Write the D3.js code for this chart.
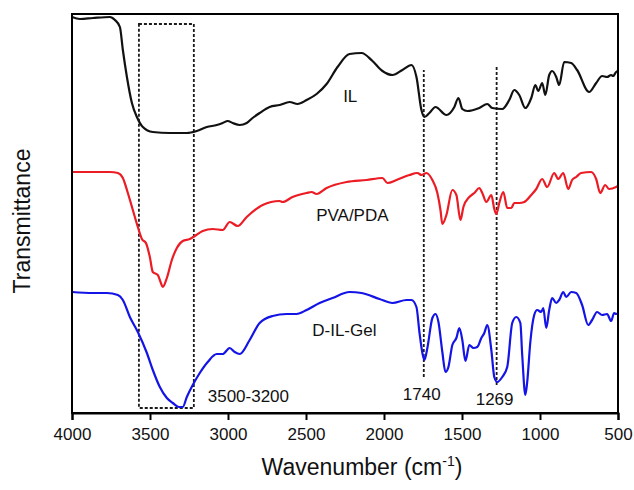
<!DOCTYPE html>
<html>
<head>
<meta charset="utf-8">
<script src="https://cdn.jsdelivr.net/npm/d3@7"></script>
<style>
  body { margin: 0; background: #fff; }
  text { font-family: "Liberation Sans", Arial, sans-serif; fill: #111; }
</style>
</head>
<body>
<div id="chart"></div>
<script>

// ---- data: [wavenumber (cm-1), transmittance (a.u.)] ----
var ilData = [
  [4000,396],[3949,394],[3866,395],[3757,396],[3725,393],[3693,386],[3674,363],[3648,336],
  [3616,310],[3584,296],[3546,286],[3482,281],[3373,280],[3264,280],[3200,282],[3136,286],
  [3072,288],[3034,290],[3002,292],[2970,290],[2925,288],[2880,290],[2842,295],[2797,300],
  [2733,306],[2669,308],[2605,311],[2554,309],[2496,313],[2432,319],[2368,329],[2298,346],
  [2221,359],[2144,360],[2074,352],[2010,342],[1946,338],[1882,343],[1824,348],[1792,336],
  [1760,303],[1741,296],[1709,300],[1670,306],[1600,298],[1549,306],[1523,315],[1498,304],
  [1466,302],[1389,305],[1338,309],[1306,305],[1242,304],[1197,313],[1165,323],[1133,318],
  [1094,305],[1056,315],[1030,328],[1011,322],[986,330],[966,318],[941,338],[922,342],
  [896,336],[877,328],[845,351],[800,350],[762,343],[685,321],[640,330],[602,337],
  [570,336],[544,338],[531,337],[512,341],[500,342]
];

var pvaData = [
  [4000,241],[3866,241],[3757,241],[3706,240],[3674,235],[3642,220],[3610,203],[3578,186],
  [3552,174],[3526,170],[3501,156],[3482,141],[3450,138],[3430,130],[3418,126],[3392,135],
  [3360,153],[3328,165],[3290,172],[3245,174],[3213,177],[3162,182],[3098,184],[3034,183],
  [2989,191],[2938,187],[2880,196],[2778,208],[2669,212],[2650,211],[2586,216],[2496,220],
  [2464,221],[2432,219],[2368,225],[2240,231],[2112,233],[2010,235],[1978,230],[1920,233],
  [1837,238],[1786,240],[1760,238],[1728,240],[1690,233],[1658,220],[1638,203],[1626,189],
  [1600,198],[1562,223],[1536,218],[1510,193],[1491,206],[1453,216],[1421,220],[1389,225],
  [1370,220],[1344,211],[1312,218],[1293,204],[1280,199],[1261,210],[1235,221],[1210,205],
  [1184,205],[1165,210],[1133,210],[1101,211],[1056,218],[1024,224],[986,234],[954,226],
  [909,240],[883,234],[851,240],[819,224],[794,233],[768,236],[736,240],[672,241],
  [640,234],[614,220],[582,228],[557,224],[512,226],[500,227]
];

var gelData = [
  [4000,121],[3866,120],[3776,120],[3706,118],[3674,113],[3629,96],[3578,81],[3520,60],
  [3482,43],[3437,26],[3392,15],[3354,10],[3315,6],[3290,6],[3264,16],[3226,28],
  [3181,40],[3130,51],[3072,59],[3034,59],[2989,65],[2957,61],[2925,59],[2861,73],
  [2797,90],[2714,97],[2624,99],[2560,99],[2496,103],[2413,110],[2330,115],[2221,121],
  [2144,120],[2029,114],[1946,110],[1856,113],[1824,113],[1792,106],[1773,81],[1754,60],
  [1741,53],[1722,65],[1690,95],[1670,99],[1651,91],[1626,61],[1606,41],[1587,46],
  [1562,68],[1536,75],[1517,85],[1498,73],[1478,52],[1453,68],[1427,65],[1402,66],
  [1376,75],[1357,80],[1338,88],[1312,63],[1293,36],[1274,31],[1242,36],[1210,46],
  [1178,90],[1152,96],[1126,90],[1114,58],[1094,18],[1082,31],[1062,71],[1037,98],
  [1018,103],[992,101],[979,105],[960,85],[941,103],[922,115],[896,110],[877,113],
  [851,121],[832,116],[800,121],[768,120],[730,108],[691,88],[666,93],[634,101],
  [602,98],[570,99],[544,92],[525,100],[512,99],[500,100]
];

var seriesNames = ['IL', 'PVA/PDA', 'D-IL-Gel'];
var seriesColors = ['#111111', '#ec1c24', '#1414e6'];
var seriesData = [ilData, pvaData, gelData];

// label anchor points [wavenumber, transmittance]
var seriesLabelPos = [[2262, 311], [2435, 192], [2460, 77]];

var xTicks = [4000, 3500, 3000, 2500, 2000, 1500, 1000, 500];

// dashed box for O-H band, and peak guide lines
var bandBox = { x0: 3571, x1: 3219, y0: 5, y1: 389, label: '3500-3200' };
var peakLines = [
  { wn: 1745, y0: 36, y1: 343, label: '1740', ly: 13 },
  { wn: 1278, y0: 28, y1: 348, label: '1269', ly: 8 }
];


// ---- svg ----
var W = 634, H = 490;
var margin = { top: 14, right: 16, bottom: 77, left: 72 };

var svg = d3.select('#chart').append('svg')
  .attr('width', W).attr('height', H);

var x = d3.scaleLinear().domain([4000, 500]).range([margin.left, W - margin.right]);
var y = d3.scaleLinear().domain([0, 399]).range([H - margin.bottom, margin.top]);

var line = d3.line()
  .x(function(d) { return x(d[0]); })
  .y(function(d) { return y(d[1]); })
  .curve(d3.curveMonotoneX);

// dashed annotations (behind curves)
var dash = svg.append('g')
  .attr('fill', 'none').attr('stroke', '#1a1a1a')
  .attr('stroke-width', 1.8).attr('stroke-dasharray', '3,2');

dash.append('rect')
  .attr('x', x(bandBox.x0)).attr('y', y(bandBox.y1))
  .attr('width', x(bandBox.x1) - x(bandBox.x0))
  .attr('height', y(bandBox.y0) - y(bandBox.y1));

dash.selectAll('line.peak')
  .data(peakLines).enter()
  .append('line').attr('class', 'peak')
  .attr('x1', function(d) { return x(d.wn); })
  .attr('x2', function(d) { return x(d.wn); })
  .attr('y1', function(d) { return y(d.y0); })
  .attr('y2', function(d) { return y(d.y1); });

// spectra
svg.selectAll('path.spec')
  .data(seriesData).enter()
  .append('path').attr('class', 'spec')
  .attr('fill', 'none')
  .attr('stroke', function(d, i) { return seriesColors[i]; })
  .attr('stroke-width', 2.2)
  .attr('stroke-linejoin', 'round')
  .attr('d', line);

// series labels
svg.selectAll('text.slab')
  .data(seriesLabelPos).enter()
  .append('text').attr('class', 'slab')
  .attr('x', function(d) { return x(d[0]); })
  .attr('y', function(d) { return y(d[1]); })
  .attr('font-size', 17)
  .text(function(d, i) { return seriesNames[i]; });

// band / peak labels
svg.append('text')
  .attr('x', x(3130)).attr('y', y(11))
  .attr('font-size', 17)
  .text(bandBox.label);

svg.selectAll('text.plab')
  .data(peakLines).enter()
  .append('text').attr('class', 'plab')
  .attr('x', function(d) { return x(d.wn) - 2; })
  .attr('y', function(d) { return y(d.ly); })
  .attr('text-anchor', 'middle')
  .attr('font-size', 17)
  .text(function(d) { return d.label; });

// frame
svg.append('rect')
  .attr('x', margin.left).attr('y', margin.top)
  .attr('width', W - margin.left - margin.right)
  .attr('height', H - margin.top - margin.bottom)
  .attr('fill', 'none').attr('stroke', '#000').attr('stroke-width', 2);

// x axis
var xAxis = svg.append('g')
  .attr('transform', 'translate(0,' + (H - margin.bottom) + ')')
  .call(d3.axisBottom(x).tickValues(xTicks).tickSize(7).tickPadding(8).tickFormat(d3.format('d')));
xAxis.select('.domain').attr('stroke-width', 2);
xAxis.selectAll('.tick line').attr('stroke-width', 2);
xAxis.selectAll('.tick text')
  .attr('font-size', 17)
  .attr('font-family', '"Liberation Sans", Arial, sans-serif')
  .attr('fill', '#111');

// axis titles
var xt = svg.append('text')
  .attr('x', (margin.left + W - margin.right) / 2 + 17)
  .attr('y', 475)
  .attr('text-anchor', 'middle')
  .attr('font-size', 23);
xt.append('tspan').text('Wavenumber (cm');
xt.append('tspan').attr('font-size', 14).attr('dy', -9).text('-1');
xt.append('tspan').attr('dy', 9).text(')');

svg.append('text')
  .attr('transform', 'translate(30,' + 221 + ') rotate(-90)')
  .attr('text-anchor', 'middle')
  .attr('font-size', 23)
  .text('Transmittance');

</script>
</body>
</html>
